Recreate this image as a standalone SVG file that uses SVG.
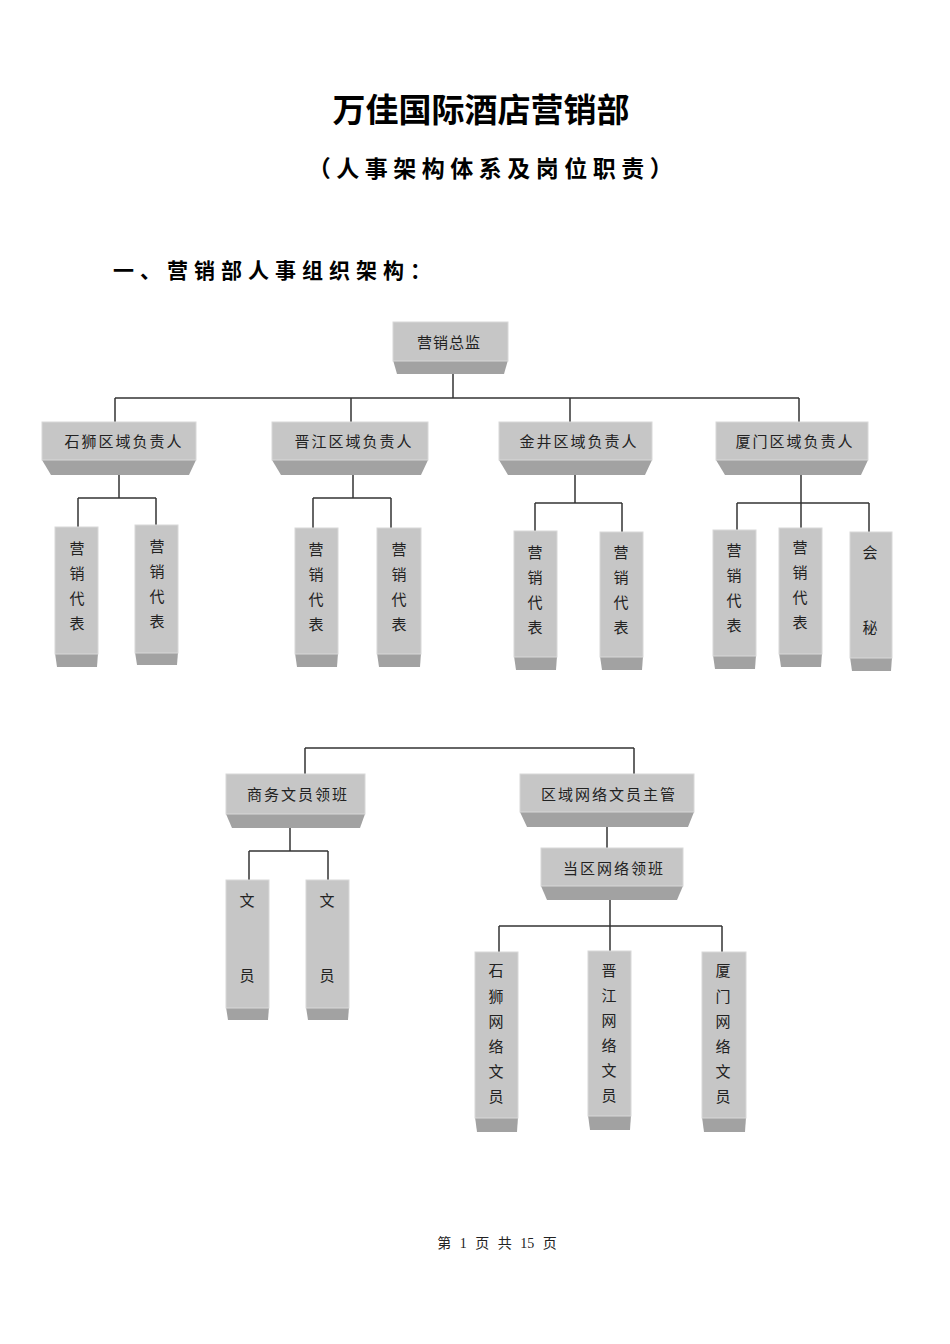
<svg xmlns="http://www.w3.org/2000/svg" width="950" height="1344" viewBox="0 0 950 1344">
<style>
.face{fill:#c6c6c6;stroke:#d8d8d8;stroke-width:1}
.base{fill:#a2a2a2}
.t{font-family:"Noto Sans CJK SC","Noto Sans",sans-serif;font-size:15px;fill:#222;text-anchor:middle}
.conn line{stroke:#333;stroke-width:1.5}
.h1{font-family:"Noto Sans CJK SC",sans-serif;font-weight:bold;fill:#000;text-anchor:middle}
</style>
<rect width="950" height="1344" fill="#fff"/>
<text class="h1" x="481" y="122" font-size="33" font-weight="600">万佳国际酒店营销部</text>
<text class="h1" x="493" y="177" font-size="23" letter-spacing="5.5" font-weight="500">（人事架构体系及岗位职责）</text>
<text class="h1" x="113" y="278" font-size="21" letter-spacing="6" font-weight="500" style="text-anchor:start">一、营销部人事组织架构：</text>

<g class="conn">
<line x1="453" y1="373" x2="453" y2="398"/>
<line x1="115" y1="398" x2="799" y2="398"/>
<line x1="115" y1="398" x2="115" y2="422"/>
<line x1="351" y1="398" x2="351" y2="422"/>
<line x1="570" y1="398" x2="570" y2="422"/>
<line x1="799" y1="398" x2="799" y2="422"/>
<line x1="119" y1="475" x2="119" y2="498"/>
<line x1="78" y1="498" x2="156" y2="498"/>
<line x1="78" y1="498" x2="78" y2="527"/>
<line x1="156" y1="498" x2="156" y2="530"/>
<line x1="353" y1="475" x2="353" y2="498"/>
<line x1="313" y1="498" x2="391" y2="498"/>
<line x1="313" y1="498" x2="313" y2="530"/>
<line x1="391" y1="498" x2="391" y2="530"/>
<line x1="575" y1="475" x2="575" y2="503"/>
<line x1="535" y1="503" x2="622" y2="503"/>
<line x1="535" y1="503" x2="535" y2="532"/>
<line x1="622" y1="503" x2="622" y2="533"/>
<line x1="801" y1="475" x2="801" y2="529"/>
<line x1="737" y1="503" x2="869" y2="503"/>
<line x1="737" y1="503" x2="737" y2="531"/>
<line x1="869" y1="503" x2="869" y2="533"/>
<line x1="305" y1="748" x2="634" y2="748"/>
<line x1="305" y1="748" x2="305" y2="774"/>
<line x1="634" y1="748" x2="634" y2="774"/>
<line x1="290" y1="828" x2="290" y2="851"/>
<line x1="249" y1="851" x2="328" y2="851"/>
<line x1="249" y1="851" x2="249" y2="880"/>
<line x1="328" y1="851" x2="328" y2="880"/>
<line x1="607" y1="826" x2="607" y2="848"/>
<line x1="610" y1="900" x2="610" y2="926"/>
<line x1="499" y1="926" x2="722" y2="926"/>
<line x1="499" y1="926" x2="499" y2="953"/>
<line x1="610" y1="926" x2="610" y2="952"/>
<line x1="722" y1="926" x2="722" y2="953"/>
</g>

<g id="n-director">
<polygon class="base" points="393,360 508,360 504,374 397,374"/>
<rect class="face" x="393" y="322" width="115" height="39"/>
<text class="t" x="449" y="348" letter-spacing="1">营销总监</text>
</g>

<g id="n-shishi">
<polygon class="base" points="42,460 196,460 189,475 51,475"/>
<rect class="face" x="42" y="422" width="154" height="38"/>
<text class="t" x="124" y="447" letter-spacing="2">石狮区域负责人</text>
</g>
<g id="n-jinjiang">
<polygon class="base" points="272,460 428,460 421,475 281,475"/>
<rect class="face" x="272" y="422" width="156" height="38"/>
<text class="t" x="354" y="447" letter-spacing="2">晋江区域负责人</text>
</g>
<g id="n-jinjing">
<polygon class="base" points="499,460 652,460 645,475 508,475"/>
<rect class="face" x="499" y="422" width="153" height="38"/>
<text class="t" x="579" y="447" letter-spacing="2">金井区域负责人</text>
</g>
<g id="n-xiamen">
<polygon class="base" points="716,460 868,460 861,475 725,475"/>
<rect class="face" x="716" y="422" width="152" height="38"/>
<text class="t" x="795" y="447" letter-spacing="2">厦门区域负责人</text>
</g>

<g id="n-ss-rep1">
<polygon class="base" points="55,653 98,653 97,667 57,667"/>
<rect class="face" x="55" y="527" width="43" height="127"/>
<text class="t" x="77" y="554">营</text><text class="t" x="77" y="579">销</text><text class="t" x="77" y="604">代</text><text class="t" x="77" y="629">表</text>
</g>
<g id="n-ss-rep2">
<polygon class="base" points="135,652 178,652 177,665 137,665"/>
<rect class="face" x="135" y="525" width="43" height="128"/>
<text class="t" x="157" y="552">营</text><text class="t" x="157" y="577">销</text><text class="t" x="157" y="602">代</text><text class="t" x="157" y="627">表</text>
</g>
<g id="n-jj-rep1">
<polygon class="base" points="295,653 338,653 337,667 297,667"/>
<rect class="face" x="295" y="528" width="43" height="126"/>
<text class="t" x="316" y="555">营</text><text class="t" x="316" y="580">销</text><text class="t" x="316" y="605">代</text><text class="t" x="316" y="630">表</text>
</g>
<g id="n-jj-rep2">
<polygon class="base" points="377,653 421,653 420,667 379,667"/>
<rect class="face" x="377" y="528" width="44" height="126"/>
<text class="t" x="399" y="555">营</text><text class="t" x="399" y="580">销</text><text class="t" x="399" y="605">代</text><text class="t" x="399" y="630">表</text>
</g>
<g id="n-jn-rep1">
<polygon class="base" points="514,656 557,656 556,670 516,670"/>
<rect class="face" x="514" y="531" width="43" height="126"/>
<text class="t" x="535" y="558">营</text><text class="t" x="535" y="583">销</text><text class="t" x="535" y="608">代</text><text class="t" x="535" y="633">表</text>
</g>
<g id="n-jn-rep2">
<polygon class="base" points="600,656 643,656 642,670 602,670"/>
<rect class="face" x="600" y="532" width="43" height="125"/>
<text class="t" x="621" y="558">营</text><text class="t" x="621" y="583">销</text><text class="t" x="621" y="608">代</text><text class="t" x="621" y="633">表</text>
</g>
<g id="n-xm-rep1">
<polygon class="base" points="713,655 756,655 755,669 715,669"/>
<rect class="face" x="713" y="530" width="43" height="126"/>
<text class="t" x="734" y="556">营</text><text class="t" x="734" y="581">销</text><text class="t" x="734" y="606">代</text><text class="t" x="734" y="631">表</text>
</g>
<g id="n-xm-rep2">
<polygon class="base" points="779,653 822,653 821,667 781,667"/>
<rect class="face" x="779" y="528" width="43" height="126"/>
<text class="t" x="800" y="553">营</text><text class="t" x="800" y="578">销</text><text class="t" x="800" y="603">代</text><text class="t" x="800" y="628">表</text>
</g>
<g id="n-xm-sec">
<polygon class="base" points="850,657 892,657 891,671 852,671"/>
<rect class="face" x="850" y="532" width="42" height="126"/>
<text class="t" x="870" y="558">会</text><text class="t" x="870" y="633">秘</text>
</g>

<g id="n-biz-lead">
<polygon class="base" points="226,814 365,814 360,828 232,828"/>
<rect class="face" x="226" y="774" width="139" height="40"/>
<text class="t" x="298" y="800" letter-spacing="2">商务文员领班</text>
</g>
<g id="n-clerk1">
<polygon class="base" points="226,1007 269,1007 268,1020 228,1020"/>
<rect class="face" x="226" y="880" width="43" height="128"/>
<text class="t" x="247" y="906">文</text><text class="t" x="247" y="981">员</text>
</g>
<g id="n-clerk2">
<polygon class="base" points="306,1007 349,1007 348,1020 308,1020"/>
<rect class="face" x="306" y="880" width="43" height="128"/>
<text class="t" x="327" y="906">文</text><text class="t" x="327" y="981">员</text>
</g>

<g id="n-net-sup">
<polygon class="base" points="520,812 694,812 688,827 527,827"/>
<rect class="face" x="520" y="774" width="174" height="38"/>
<text class="t" x="609" y="800" letter-spacing="2">区域网络文员主管</text>
</g>
<g id="n-net-lead">
<polygon class="base" points="541,886 683,886 677,900 547,900"/>
<rect class="face" x="541" y="848" width="142" height="38"/>
<text class="t" x="614" y="874" letter-spacing="2">当区网络领班</text>
</g>
<g id="n-net-ss">
<polygon class="base" points="475,1117 518,1117 517,1132 477,1132"/>
<rect class="face" x="475" y="952" width="43" height="166"/>
<text class="t" x="496" y="976">石</text><text class="t" x="496" y="1002">狮</text><text class="t" x="496" y="1027">网</text><text class="t" x="496" y="1052">络</text><text class="t" x="496" y="1077">文</text><text class="t" x="496" y="1102">员</text>
</g>
<g id="n-net-jj">
<polygon class="base" points="588,1115 631,1115 630,1130 590,1130"/>
<rect class="face" x="588" y="951" width="43" height="165"/>
<text class="t" x="609" y="976">晋</text><text class="t" x="609" y="1001">江</text><text class="t" x="609" y="1026">网</text><text class="t" x="609" y="1051">络</text><text class="t" x="609" y="1076">文</text><text class="t" x="609" y="1101">员</text>
</g>
<g id="n-net-xm">
<polygon class="base" points="702,1117 746,1117 745,1132 704,1132"/>
<rect class="face" x="702" y="952" width="44" height="166"/>
<text class="t" x="723" y="976">厦</text><text class="t" x="723" y="1002">门</text><text class="t" x="723" y="1027">网</text><text class="t" x="723" y="1052">络</text><text class="t" x="723" y="1077">文</text><text class="t" x="723" y="1102">员</text>
</g>

<text x="497" y="1248" font-family="'Liberation Serif','Noto Sans CJK SC',serif" font-size="14" fill="#222" text-anchor="middle" word-spacing="5">第 1 页 共 15 页</text>
</svg>
